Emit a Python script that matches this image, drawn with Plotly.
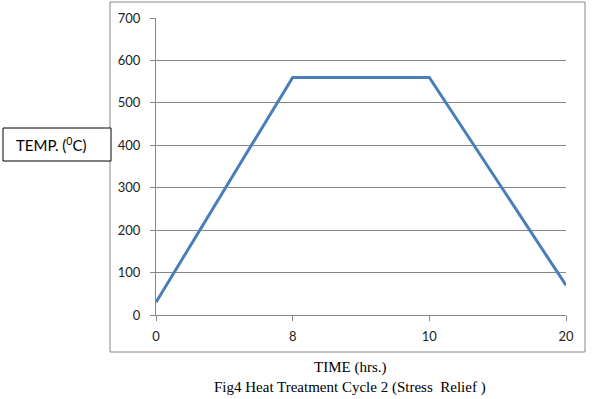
import plotly.graph_objects as go

time_labels = ["0", "8", "10", "20"]
temps = [30, 560, 560, 70]
y_ticks = [0, 100, 200, 300, 400, 500, 600, 700]

W, H = 596, 399
L, R, T, B = 156, 30, 18, 84
pw, ph = W - L - R, H - T - B

def px(x):
    return (x - L) / pw

def py(y):
    return (H - B - y) / ph

fig = go.Figure()
fig.add_trace(go.Scatter(
    x=time_labels, y=temps, mode="lines",
    line=dict(color="#4a7ebb", width=3), showlegend=False,
    hoverinfo="skip"))

fig.update_layout(
    width=W, height=H,
    margin=dict(l=L, r=R, t=T, b=B, pad=0, autoexpand=False),
    paper_bgcolor="white", plot_bgcolor="white",
    font=dict(family="Lato", size=13, color="#222"),
    xaxis=dict(type="category", range=[0, 3], showgrid=False, automargin=False,
               showline=True, linecolor="#868686", linewidth=1,
               ticks="outside", ticklen=5, tickcolor="#868686",
               ticklabelstandoff=4,
               tickfont=dict(size=13), zeroline=False),
    yaxis=dict(range=[0, 700], tickvals=y_ticks, showgrid=True, automargin=False,
               gridcolor="#868686", gridwidth=1,
               showline=True, linecolor="#868686", linewidth=1,
               ticks="outside", ticklen=5, tickcolor="#868686",
               ticklabelstandoff=7,
               tickfont=dict(size=13), zeroline=False),
)

# outer chart border
fig.add_shape(type="rect", xref="paper", yref="paper",
              x0=px(110), x1=px(585), y0=py(352), y1=py(2),
              line=dict(color="#868686", width=1), layer="below")
# TEMP label box
fig.add_shape(type="rect", xref="paper", yref="paper",
              x0=px(3), x1=px(111), y0=py(161), y1=py(128),
              line=dict(color="black", width=1), fillcolor="white")
fig.add_annotation(xref="paper", yref="paper", x=px(51), y=py(144),
                   xanchor="center", yanchor="middle",
                   text="TEMP. (<sup>0</sup>C)", showarrow=False,
                   font=dict(family="Lato", size=15, color="black"))
fig.add_annotation(xref="paper", yref="paper", x=px(350), y=py(367),
                   xanchor="center", yanchor="middle",
                   text="TIME (hrs.)", showarrow=False,
                   font=dict(family="Liberation Serif", size=15, color="black"))
fig.add_annotation(xref="paper", yref="paper", x=px(350), y=py(387),
                   xanchor="center", yanchor="middle",
                   text="Fig4 Heat Treatment Cycle 2 (Stress&nbsp; Relief )", showarrow=False,
                   font=dict(family="Liberation Serif", size=15, color="black"))

fig.write_html("out.html", config={"displayModeBar": False},
               post_script="document.body.style.margin='0';document.body.style.overflow='hidden';")
